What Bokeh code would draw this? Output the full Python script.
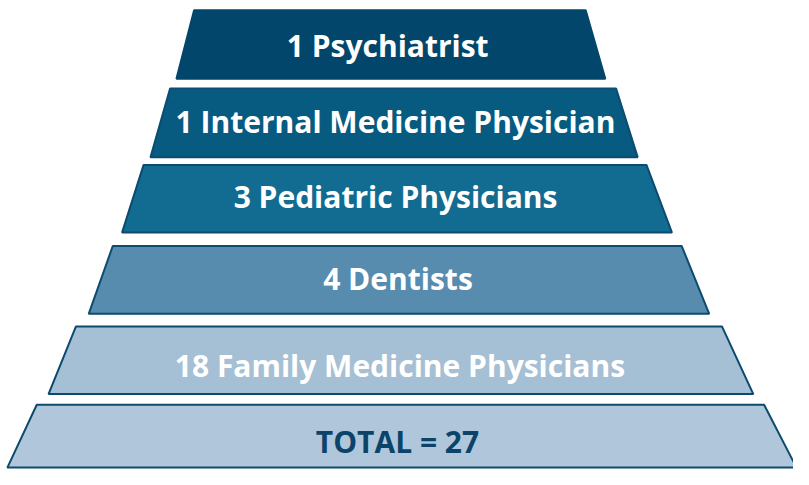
from bokeh.plotting import figure
from bokeh.models import Range1d, ColumnDataSource
from bokeh.core.properties import value
from bokeh.embed import file_html
from bokeh.resources import INLINE

# ---- data ----
counts = [1, 1, 3, 4, 18]
roles = ["Psychiatrist", "Internal Medicine Physician", "Pediatric Physicians",
         "Dentists", "Family Medicine Physicians"]
total = sum(counts)
labels = [f"{c} {r}" for c, r in zip(counts, roles)] + [f"TOTAL = {total}"]

# ---- layout (reference pixel coordinates, 809 x 485 canvas) ----
tops = [10, 91, 170, 254, 337, 418]
bottoms = [81, 162, 240, 324, 407, 483]
top_left = [197.5, 173, 146, 114.5, 77, 37]
top_right = [597, 628, 659, 695, 736, 779]
bot_left = [179.5, 153, 124, 90, 49, 7]
bot_right = [617, 650, 685, 723, 768, 812]
label_x = [395, 403, 403, 405.5, 407.5, 405]
label_base = [47, 125, 203, 288, 377, 456]

fills = ["#03466b", "#075a80", "#126b91", "#578cae", "#a5bfd4", "#b0c7db"]
lines = ["#03466b", "#0b4c70", "#0c4b6f", "#0d4b6f", "#0b4a6e", "#0c4a6e"]
text_colors = ["white"] * 5 + ["#0b4468"]

W, H = 793, 469
p = figure(width=W, height=H, output_backend="svg", toolbar_location=None,
           x_range=Range1d(0, 809), y_range=Range1d(485, 0),
           min_border=0, outline_line_color=None, background_fill_color="white")
p.axis.visible = False
p.grid.visible = False

xs = [[tl, tr, br, bl] for tl, tr, br, bl in zip(top_left, top_right, bot_right, bot_left)]
ys = [[t, t, b, b] for t, b in zip(tops, bottoms)]
src = ColumnDataSource(dict(xs=xs, ys=ys, fill=fills, line=lines))
p.patches("xs", "ys", source=src, fill_color="fill", line_color="line", line_width=2)

tsrc = ColumnDataSource(dict(x=label_x, y=label_base, text=labels, color=text_colors))
p.text("x", "y", text="text", source=tsrc, text_color="color",
       text_font=value("Open Sans"), text_font_style="bold", text_font_size="30px",
       text_align="center", text_baseline="alphabetic")

open("out.html", "w").write(file_html(p, INLINE))
